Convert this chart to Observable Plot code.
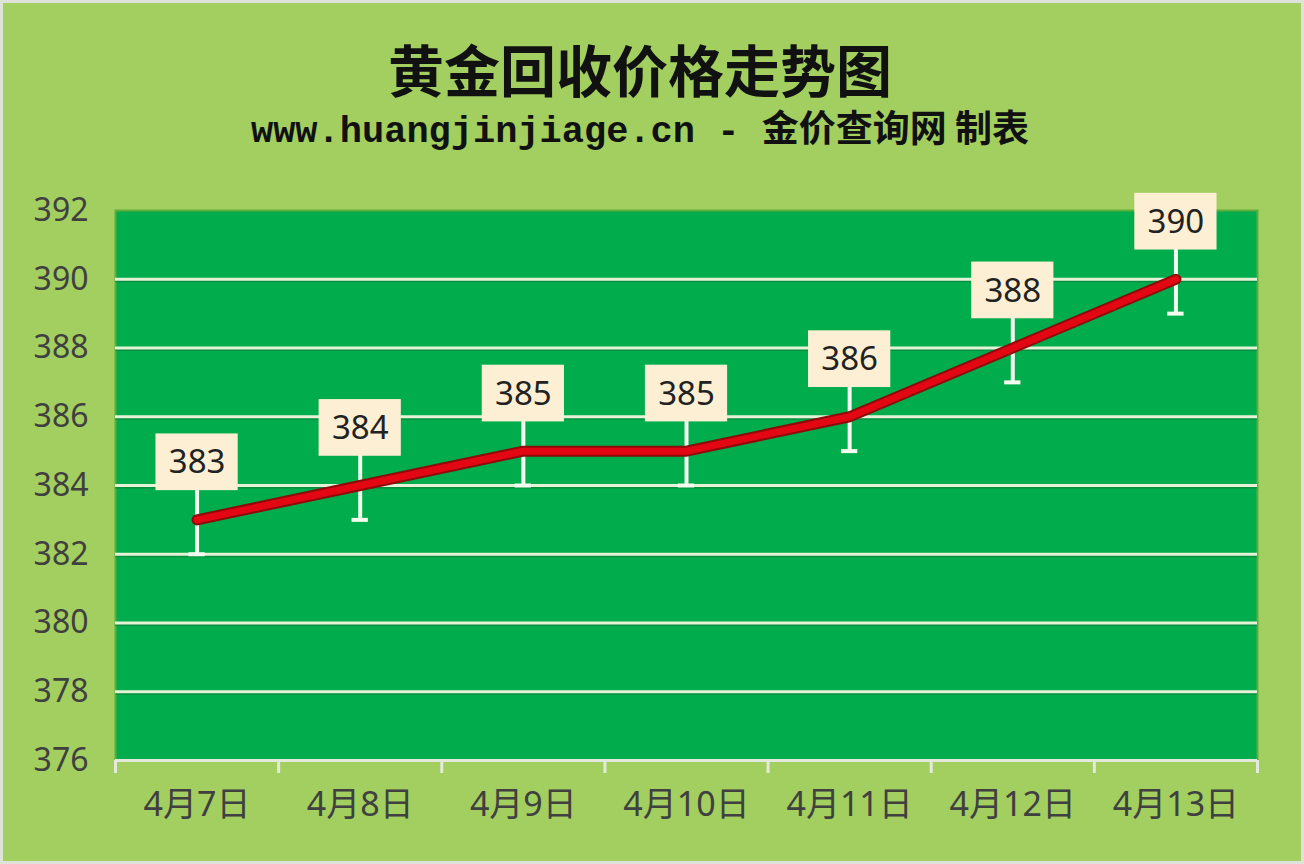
<!DOCTYPE html>
<html>
<head>
<meta charset="utf-8">
<script src="https://cdn.jsdelivr.net/npm/d3@7"></script>
<script src="https://cdn.jsdelivr.net/npm/@observablehq/plot@0.6"></script>
<style>
  html, body { margin: 0; padding: 0; }
  #wrap {
    position: relative; width: 1304px; height: 864px; overflow: hidden;
    background: #A2CF5F; box-shadow: inset 0 0 0 3px #dde3d8;
  }
  #title {
    position: absolute; left: 0; top: 40px; width: 1280px; text-align: center;
    font-family: "Noto Sans CJK SC", sans-serif; font-weight: 700; font-size: 56px;
    line-height: 56px; color: #111;
  }
  #subtitle {
    position: absolute; left: 0; top: 108px; width: 1280px; text-align: center;
    font-family: "Liberation Mono", "Noto Sans CJK SC", monospace; font-weight: 700; font-size: 37px;
    line-height: 37px; color: #111; white-space: pre;
  }
  #subtitle .cjk { font-family: "Noto Sans CJK SC", sans-serif; }
  #chart { position: absolute; left: 0; top: 180px; }
</style>
</head>
<body>
<div id="wrap">
  <div id="title">黄金回收价格走势图</div>
  <div id="subtitle">www.huangjinjiage.cn - <span class="cjk">金价查询网 制表</span></div>
  <div id="chart"></div>
</div>
<script>
const dates = ["4月7日", "4月8日", "4月9日", "4月10日", "4月11日", "4月12日", "4月13日"];
const prices = [383, 384, 385, 385, 386, 388, 390];
const yTicks = [376, 378, 380, 382, 384, 386, 388, 390, 392];
const gridValues = [378, 380, 382, 384, 386, 388, 390];

const data = dates.map((d, i) => ({i, date: d, price: prices[i]}));
const idx = dates.map((d, i) => i);
const bounds = [...idx.map(i => i - 0.5), dates.length - 0.5];

const chart = Plot.plot({
  width: 1304,
  height: 684,
  marginTop: 30,
  marginBottom: 104,
  marginLeft: 115,
  marginRight: 47,
  style: {background: "transparent", fontFamily: "'Noto Sans', 'Noto Sans CJK SC', sans-serif", color: "#404040", overflow: "visible"},
  x: {type: "linear", domain: [-0.5, dates.length - 0.5], axis: null},
  y: {domain: [376, 392], axis: null},
  marks: [
    Plot.frame({fill: "#00AC4C", stroke: "#5fae3c", strokeWidth: 2}),
    Plot.ruleY(gridValues, {stroke: "#0a7a38", strokeWidth: 2, dy: 2, strokeOpacity: 0.6}),
    Plot.ruleY(gridValues, {stroke: "#e4f3d6", strokeWidth: 3}),
    Plot.axisY({ticks: yTicks, tickSize: 0, tickPadding: 27, fontSize: 32, fill: "#404040", label: null}),
    Plot.axisX({ticks: bounds, tickSize: 13, tickFormat: () => "", stroke: "#e3eadb", strokeWidth: 3, label: null}),
    Plot.ruleY([376], {stroke: "#e3eadb", strokeWidth: 3}),
    Plot.axisX({ticks: idx, tickSize: 0, tickPadding: 31, tickFormat: i => dates[i], fontSize: 34, fill: "#404040", label: null}),
    Plot.ruleX(data, {x: "i", y1: d => d.price - 1, y2: d => d.price + 1, stroke: "#f4fbef", strokeWidth: 4}),
    Plot.ruleY(data, {y: d => d.price - 1, x1: d => d.i - 0.05, x2: d => d.i + 0.05, stroke: "#f4fbef", strokeWidth: 4}),
    Plot.line(data, {x: "i", y: "price", stroke: "#8f0a0a", strokeWidth: 11, strokeLinejoin: "round", strokeLinecap: "round"}),
    Plot.line(data, {x: "i", y: "price", stroke: "#E30613", strokeWidth: 7, strokeLinejoin: "round", strokeLinecap: "round"}),
    Plot.rect(data, {x1: d => d.i - 0.252, x2: d => d.i + 0.252, y1: d => d.price + 0.85, y2: d => d.price + 2.5, fill: "#FCEFD3"}),
    Plot.text(data, {x: "i", y: d => d.price + 1.66, text: d => String(d.price), fontSize: 33, fill: "#222"})
  ]
});
document.getElementById("chart").appendChild(chart);
</script>
</body>
</html>
